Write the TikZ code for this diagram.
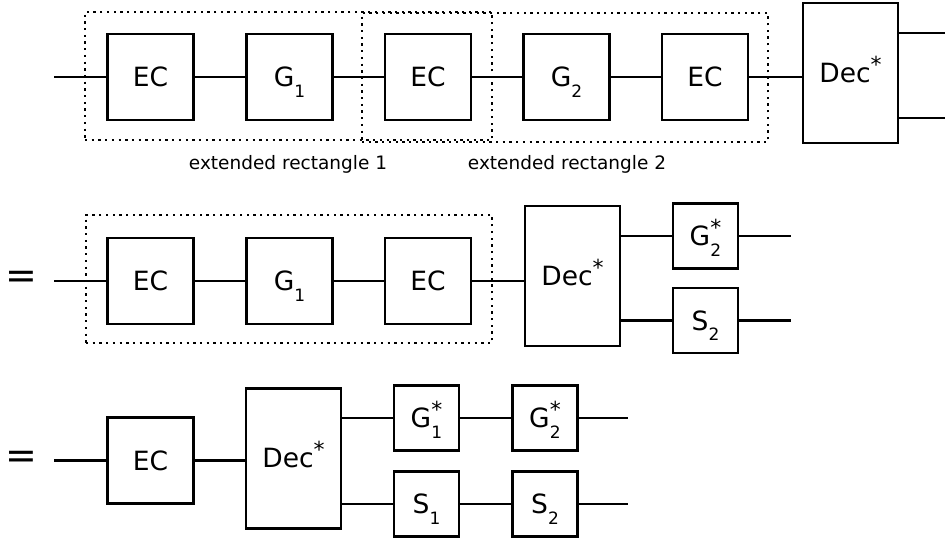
\documentclass[tikz,border=0pt]{standalone}
\usepackage{fontspec}
\setmainfont{DejaVu Sans}
\newcommand{\subt}[1]{\raisebox{-10.5pt}[0pt][0pt]{\fontsize{17}{17}\selectfont #1}}
\newcommand{\supt}[1]{\raisebox{10pt}[0pt][0pt]{\fontsize{22}{22}\selectfont #1}}
\newcommand{\subsupt}[2]{\ooalign{\subt{#1}\cr\supt{#2}\cr}}
\begin{document}
\begin{tikzpicture}[x=1pt,y=-1pt,
  box/.style={draw, line width=2.2pt, inner sep=0pt, font=\fontsize{26.5}{30}\selectfont},
  ecbox/.style={box, minimum width=86pt, minimum height=86pt},
  decbox/.style={box, minimum width=95pt, minimum height=140pt},
  smallbox/.style={box, minimum width=65pt, minimum height=65pt},
  wire/.style={line width=2.2pt},
  dotbox/.style={draw, line width=2.3pt, dash pattern=on 2.3pt off 4.4pt, inner sep=0pt},
  lab/.style={font=\fontsize{18.5}{22}\selectfont},
  eqsign/.style={font=\fontsize{38}{40}\selectfont, inner sep=0pt}]
\useasboundingbox (0,0) rectangle (945,540);

% ---------- row 1 ----------
\node[dotbox, minimum width=407pt, minimum height=128pt] (r1) at (288.5,76) {};
\node[dotbox, minimum width=406pt, minimum height=129pt] (r2) at (565,77.5) {};
\node[lab] (l1) at (288,164) {extended rectangle 1};
\node[lab] (l2) at (567,164) {extended rectangle 2};

\node[ecbox] (a1) at (150.5,77) {EC};
\node[ecbox] (a2) at (289.5,77) {G\subt{1}};
\node[ecbox] (a3) at (428,77) {EC};
\node[ecbox] (a4) at (566.5,77) {G\subt{2}};
\node[ecbox] (a5) at (705,77) {EC};
\node[decbox] (d1) at (850.5,73) {Dec\supt{*}};
\coordinate (i1) at (54,77);
\coordinate (o1) at (945,33);
\coordinate (o2) at (945,118);
\draw[wire] (i1) -- (a1) -- (a2) -- (a3) -- (a4) -- (a5);
\draw[wire] (a5.east) -- (a5.east -| d1.west);
\draw[wire] (d1.east |- o1) -- (o1);
\draw[wire] (d1.east |- o2) -- (o2);

% ---------- row 2 ----------
\node[eqsign] (e2) at (21,280) {=};
\node[dotbox, minimum width=406pt, minimum height=128pt] (r3) at (289,279) {};
\node[ecbox] (b1) at (150.5,281) {EC};
\node[ecbox] (b2) at (289.5,281) {G\subt{1}};
\node[ecbox] (b3) at (428,281) {EC};
\node[decbox] (d2) at (572.5,276) {Dec\supt{*}};
\node[smallbox] (b4) at (705.5,236) {G\subsupt{2}{*}};
\node[smallbox] (b5) at (705.5,320.5) {S\subt{2}};
\coordinate (i2) at (54,281);
\coordinate (p1) at (791,236);
\coordinate (p2) at (791,320.5);
\draw[wire] (i2) -- (b1) -- (b2) -- (b3);
\draw[wire] (b3.east) -- (b3.east -| d2.west);
\draw[wire] (d2.east |- b4.west) -- (b4.west);
\draw[wire] (d2.east |- b5.west) -- (b5.west);
\draw[wire] (b4.east) -- (p1);
\draw[wire] (b5.east) -- (p2);

% ---------- row 3 ----------
\node[eqsign] (e3) at (21,460) {=};
\node[ecbox] (c1) at (150.5,460.5) {EC};
\node[decbox] (d3) at (293.5,458.5) {Dec\supt{*}};
\node[smallbox] (c2) at (426.5,418) {G\subsupt{1}{*}};
\node[smallbox] (c3) at (545,418) {G\subsupt{2}{*}};
\node[smallbox] (c4) at (426.5,504) {S\subt{1}};
\node[smallbox] (c5) at (545,504) {S\subt{2}};
\coordinate (i3) at (54,460.5);
\coordinate (q1) at (628,418);
\coordinate (q2) at (628,504);
\draw[wire] (i3) -- (c1);
\draw[wire] (c1.east) -- (c1.east -| d3.west);
\draw[wire] (d3.east |- c2.west) -- (c2.west);
\draw[wire] (d3.east |- c4.west) -- (c4.west);
\draw[wire] (c2) -- (c3) -- (q1);
\draw[wire] (c4) -- (c5) -- (q2);
\end{tikzpicture}
\end{document}
